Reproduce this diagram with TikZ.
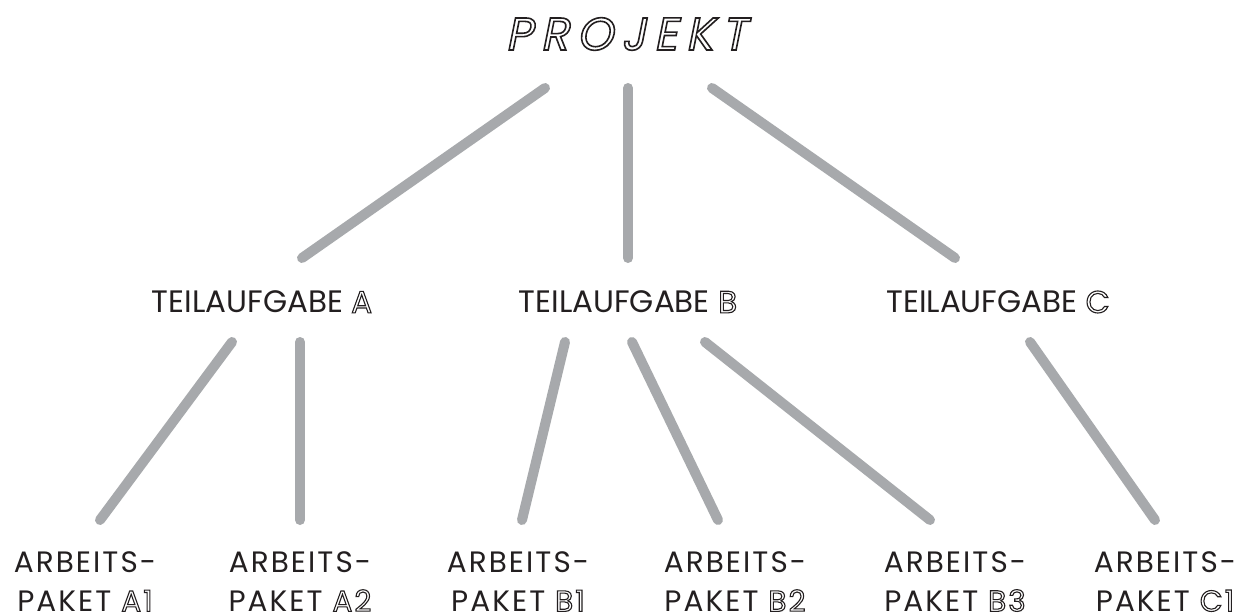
\documentclass[tikz,border=0pt]{standalone}
\usepackage{fontspec}
\setmainfont{Poppins}
\usetikzlibrary{calc}
\definecolor{linegray}{HTML}{A7A9AC}
\definecolor{textgray}{HTML}{231F20}
% hollow letters: stroke the glyph outline only
\newcommand{\hollow}[2][1.1]{\special{pdf:literal direct 1 Tr #1 w}#2\special{pdf:literal direct 0 Tr 0.4 w}}
\tikzset{
  branch/.style={color=linegray,line width=10pt,line cap=round},
  task/.style={font=\fontsize{31}{34}\selectfont,text=textgray,inner sep=0pt},
  pkg/.style={font=\fontsize{29.5}{39}\selectfont\addfontfeatures{LetterSpace=7},text=textgray,align=center,inner sep=0pt},
}
\begin{document}
\begin{tikzpicture}[x=1pt,y=-1pt]
\useasboundingbox[fill=white] (0,0) rectangle (1245,615);
% Drawing nodes
\node[text=textgray,inner sep=0pt,font=\fontsize{46}{50}\selectfont\addfontfeatures{FakeSlant=0.2,LetterSpace=18}] (proj) at (626,34) {\hollow[1.6]{PROJEKT}};
\node[task] (ta) at (262,302) {TEILAUFGABE \hollow{A}};
\node[task] (tb) at (628,302) {TEILAUFGABE \hollow{B}};
\node[task] (tc) at (998,302) {TEILAUFGABE \hollow{C}};
\node[pkg] (pa1) at (85,581.5) {ARBEITS-\\PAKET \hollow{A1}};
\node[pkg] (pa2) at (300,581.5) {ARBEITS-\\PAKET \hollow{A2}};
\node[pkg] (pb1) at (518,581.5) {ARBEITS-\\PAKET \hollow{B1}};
\node[pkg] (pb2) at (735,581.5) {ARBEITS-\\PAKET \hollow{B2}};
\node[pkg] (pb3) at (955,581.5) {ARBEITS-\\PAKET \hollow{B3}};
\node[pkg] (pc1) at (1165,581.5) {ARBEITS-\\PAKET \hollow{C1}};
% Drawing branches
\draw[branch] ($(proj)+(-81,54)$) -- ($(ta)+(40,-44)$);
\draw[branch] ($(proj)+(2,54)$) -- ($(tb)+(0,-44)$);
\draw[branch] ($(proj)+(86,54)$) -- ($(tc)+(-43,-44)$);
\draw[branch] ($(ta)+(-30,40)$) -- ($(pa1)+(15,-61.5)$);
\draw[branch] ($(ta)+(38,40)$) -- ($(pa2)+(0,-61.5)$);
\draw[branch] ($(tb)+(-63,40)$) -- ($(pb1)+(4,-61.5)$);
\draw[branch] ($(tb)+(4,40)$) -- ($(pb2)+(-17,-61.5)$);
\draw[branch] ($(tb)+(77,40)$) -- ($(pb3)+(-25,-61.5)$);
\draw[branch] ($(tc)+(32,40)$) -- ($(pc1)+(-10,-61.5)$);
\end{tikzpicture}
\end{document}
